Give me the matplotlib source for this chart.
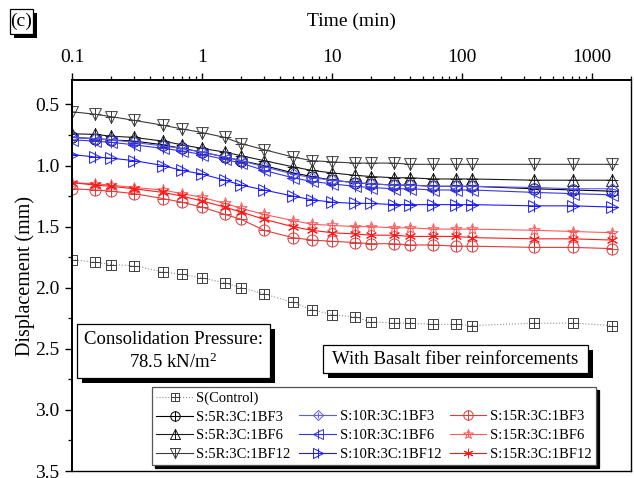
import matplotlib
matplotlib.use("Agg")
import matplotlib.pyplot as plt
from matplotlib.path import Path
from matplotlib.markers import MarkerStyle
from matplotlib.lines import Line2D
from matplotlib.patches import Rectangle
from matplotlib.ticker import FixedLocator, LogLocator, FuncFormatter, MultipleLocator, NullFormatter

plt.rcParams['font.family'] = ['Liberation Serif', 'DejaVu Serif']
plt.rcParams['mathtext.fontset'] = 'custom'
plt.rcParams['mathtext.rm'] = 'Liberation Serif'
plt.rcParams['mathtext.it'] = 'Liberation Serif:italic'

# ---- data -----------------------------------------------------------------
time_min = [0.1, 0.15, 0.2, 0.3, 0.5, 0.7, 1, 1.5, 2, 3, 5, 7, 10, 15, 20, 30,
            40, 60, 90, 120, 360, 720, 1440]

s_control = [1.77, 1.79, 1.81, 1.82, 1.87, 1.89, 1.92, 1.96, 2.00, 2.05, 2.12,
             2.18, 2.22, 2.24, 2.28, 2.29, 2.29, 2.30, 2.30, 2.31, 2.29, 2.29, 2.31]

r5_bf3 = [0.77, 0.78, 0.79, 0.80, 0.83, 0.86, 0.89, 0.93, 0.96, 1.00, 1.06,
          1.09, 1.12, 1.14, 1.15, 1.16, 1.16, 1.17, 1.17, 1.17, 1.19, 1.20, 1.21]
r5_bf6 = [0.74, 0.745, 0.76, 0.77, 0.80, 0.83, 0.86, 0.89, 0.92, 0.96, 1.01,
          1.04, 1.06, 1.08, 1.09, 1.10, 1.10, 1.11, 1.11, 1.11, 1.12, 1.12, 1.12]
r5_bf12 = [0.56, 0.58, 0.60, 0.63, 0.67, 0.70, 0.73, 0.77, 0.82, 0.87, 0.93,
           0.96, 0.97, 0.98, 0.98, 0.98, 0.99, 0.99, 0.99, 0.99, 0.99, 0.99, 0.99]

r10_bf3 = [0.77, 0.78, 0.79, 0.81, 0.84, 0.86, 0.89, 0.93, 0.96, 1.01, 1.07,
           1.10, 1.12, 1.14, 1.15, 1.16, 1.16, 1.17, 1.17, 1.17, 1.18, 1.19, 1.19]
r10_bf6 = [0.79, 0.80, 0.81, 0.83, 0.86, 0.88, 0.91, 0.95, 0.98, 1.04, 1.10,
           1.13, 1.15, 1.17, 1.18, 1.19, 1.19, 1.20, 1.20, 1.20, 1.22, 1.23, 1.24]
r10_bf12 = [0.91, 0.93, 0.94, 0.96, 1.00, 1.04, 1.07, 1.12, 1.16, 1.20, 1.25,
            1.28, 1.30, 1.31, 1.31, 1.32, 1.32, 1.32, 1.32, 1.32, 1.33, 1.33, 1.34]

r15_bf3 = [1.19, 1.20, 1.21, 1.23, 1.27, 1.30, 1.34, 1.40, 1.44, 1.53, 1.59,
           1.61, 1.62, 1.63, 1.64, 1.64, 1.65, 1.65, 1.66, 1.66, 1.67, 1.67, 1.68]
r15_bf6 = [1.14, 1.15, 1.16, 1.18, 1.20, 1.23, 1.26, 1.31, 1.35, 1.40, 1.45,
           1.48, 1.49, 1.50, 1.50, 1.51, 1.51, 1.52, 1.52, 1.52, 1.53, 1.54, 1.55]
r15_bf12 = [1.14, 1.16, 1.17, 1.19, 1.22, 1.25, 1.29, 1.34, 1.38, 1.44, 1.50,
            1.53, 1.55, 1.56, 1.57, 1.57, 1.58, 1.58, 1.58, 1.59, 1.60, 1.60, 1.61]

x_ticks = [0.1, 1, 10, 100, 1000]
y_ticks = [0.5, 1.0, 1.5, 2.0, 2.5, 3.0, 3.5]


# ---- marker shapes with an inner cross ------------------------------------
def with_cross(base, scale=0.5):
    ms = MarkerStyle(base)
    outline = ms.get_path().transformed(ms.get_transform())
    cross = Path([(-scale, 0), (scale, 0), (0, -scale), (0, scale)],
                 [Path.MOVETO, Path.LINETO, Path.MOVETO, Path.LINETO])
    return Path.make_compound_path(outline, cross)


m_square = with_cross('s')
m_circle = with_cross('o')
m_up = with_cross('^')
m_down = with_cross('v')
m_diamond = with_cross('D', 0.42)
m_left = with_cross('<')
m_right = with_cross('>')
m_star = with_cross('*', 0.3)
m_aster = (6, 2, 0)

fig = plt.figure(figsize=(6.34, 4.78), dpi=100)
ax = fig.add_axes([72 / 634, 1 - 471 / 478, (631 - 72) / 634, (471 - 80) / 478])

series = [
    ("S(Control)", s_control, '#404040', m_square, 7.2, ':', '#909090'),
    ("S:5R:3C:1BF3", r5_bf3, '#000000', m_circle, 8, '-', None),
    ("S:5R:3C:1BF6", r5_bf6, '#1a1a1a', m_up, 8.5, '-', None),
    ("S:5R:3C:1BF12", r5_bf12, '#3c3c3c', m_down, 8.5, '-', None),
    ("S:10R:3C:1BF3", r10_bf3, '#5a5aff', m_diamond, 8.5, '-', None),
    ("S:10R:3C:1BF6", r10_bf6, '#3535e8', m_left, 8.5, '-', None),
    ("S:10R:3C:1BF12", r10_bf12, '#1c1cff', m_right, 8.5, '-', None),
    ("S:15R:3C:1BF3", r15_bf3, '#e03a3a', m_circle, 8, '-', None),
    ("S:15R:3C:1BF6", r15_bf6, '#ff5a5a', m_star, 8.5, '-', None),
    ("S:15R:3C:1BF12", r15_bf12, '#ff1a1a', m_aster, 8, '-', None),
]

handles = {}
for label, vals, col, mk, size, ls, lcol in series:
    line, = ax.plot(time_min, vals, linestyle=ls, color=lcol or col, lw=0.8,
                    marker=mk, ms=size, mfc='none', mec=col, mew=0.7,
                    label=label)
    handles[label] = line

ax.set_xscale('log')
ax.set_xlim(0.1, 2000)
ax.set_ylim(3.5, 0.3)

ax.xaxis.set_ticks_position('top')
ax.xaxis.set_label_position('top')
ax.xaxis.set_major_locator(FixedLocator(x_ticks))
ax.xaxis.set_major_formatter(FuncFormatter(lambda v, p: f"{v:g}"))
ax.xaxis.set_minor_locator(LogLocator(base=10, subs=range(2, 10)))
ax.xaxis.set_minor_formatter(NullFormatter())
ax.yaxis.set_major_locator(FixedLocator(y_ticks))
ax.yaxis.set_major_formatter(FuncFormatter(lambda v, p: f"{v:.1f}"))
ax.yaxis.set_minor_locator(MultipleLocator(0.25))

ax.tick_params(axis='both', which='major', direction='out', length=5,
               width=1.0, labelsize=14)
ax.tick_params(axis='x', which='major', pad=5)
ax.tick_params(axis='y', which='major', pad=4)
ax.tick_params(axis='both', which='minor', direction='out', length=3, width=0.9)
for sp in ax.spines.values():
    sp.set_linewidth(1.0)
ax.spines['left'].set_linewidth(1.4)
ax.spines['top'].set_linewidth(1.4)

ax.set_xlabel("Time (min)", fontsize=14, labelpad=17)
ax.set_ylabel("Displacement (mm)", fontsize=14.5, labelpad=0)

# ---- legend ---------------------------------------------------------------
blank = Line2D([], [], alpha=0)
order = [handles["S(Control)"], handles["S:5R:3C:1BF3"], handles["S:5R:3C:1BF6"],
         handles["S:5R:3C:1BF12"], blank, handles["S:10R:3C:1BF3"],
         handles["S:10R:3C:1BF6"], handles["S:10R:3C:1BF12"], blank,
         handles["S:15R:3C:1BF3"], handles["S:15R:3C:1BF6"],
         handles["S:15R:3C:1BF12"]]
labels = ["S(Control)", "S:5R:3C:1BF3", "S:5R:3C:1BF6", "S:5R:3C:1BF12", "",
          "S:10R:3C:1BF3", "S:10R:3C:1BF6", "S:10R:3C:1BF12", "",
          "S:15R:3C:1BF3", "S:15R:3C:1BF6", "S:15R:3C:1BF12"]
leg = ax.legend(order, labels, ncol=3, loc='upper left',
                bbox_to_anchor=(152 / 634, 1 - 387 / 478),
                bbox_transform=fig.transFigure, borderaxespad=0,
                fontsize=10.5, frameon=True, fancybox=False, framealpha=1,
                edgecolor='#555555', shadow={'color': 'black', 'alpha': 1},
                handlelength=2.5, handletextpad=0.25, columnspacing=0.6,
                labelspacing=0.38, borderpad=0.3, markerscale=0.85)
leg.get_frame().set_linewidth(0.9)


# ---- framed text boxes with drop shadow -----------------------------------
def shadow_box(x0, y0, x1, y1, off=4):
    W, H = 634, 478
    fx, fy = x0 / W, 1 - y1 / H
    fw, fh = (x1 - x0) / W, (y1 - y0) / H
    fig.add_artist(Rectangle((fx + off / W, fy - off / H), fw, fh,
                             transform=fig.transFigure, facecolor='black',
                             edgecolor='none', zorder=5))
    fig.add_artist(Rectangle((fx, fy), fw, fh, transform=fig.transFigure,
                             facecolor='white', edgecolor='black', lw=0.9,
                             zorder=6))


def px_text(x, y, s, size):
    fig.text(x / 634, 1 - y / 478, s, ha='center', va='center',
             fontsize=size, zorder=7)


shadow_box(10, 9, 33, 34, off=4)
px_text(21.5, 21, "(c)", 14)

shadow_box(77, 324, 270, 378, off=5)
px_text(173.5, 339, "Consolidation Pressure:", 13.5)
px_text(173.5, 362, "78.5 kN/m$^2$", 13.5)

shadow_box(323, 345, 588, 373, off=5)
px_text(455.5, 359, "With Basalt fiber reinforcements", 13.5)

fig.savefig("out.png", dpi=100)
